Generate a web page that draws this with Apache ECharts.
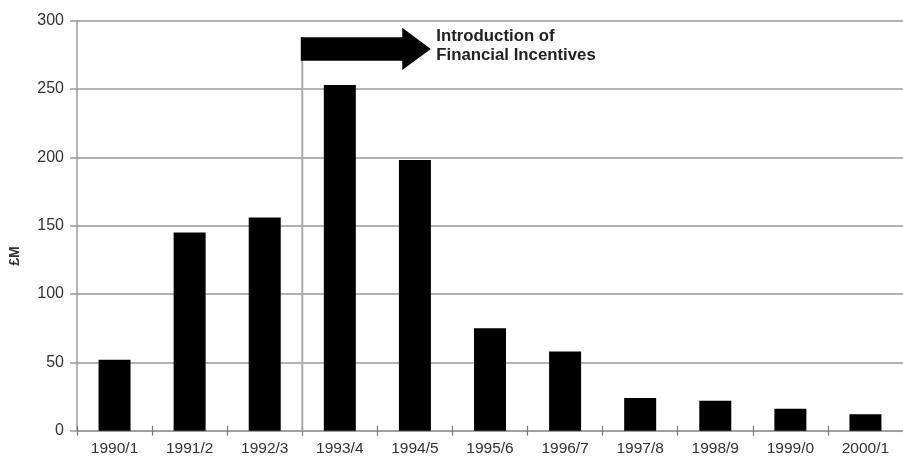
<!DOCTYPE html>
<html>
<head>
<meta charset="utf-8">
<script src="https://cdn.jsdelivr.net/npm/echarts@6/dist/echarts.min.js"></script>
<style>
html,body{margin:0;padding:0;background:#fff;}
#c{width:903px;height:459px;}
</style>
</head>
<body>
<div id="c"></div>
<script>
const categories = ['1990/1','1991/2','1992/3','1993/4','1994/5','1995/6','1996/7','1997/8','1998/9','1999/0','2000/1'];
const values = [52, 145, 156, 253, 198, 75, 58, 24, 22, 16, 12];
const yTicks = [0, 50, 100, 150, 200, 250, 300];
const yAxisName = '£M';
const annotationLines = ['Introduction of', 'Financial Incentives'];
const incentiveStartIndex = 3;

const FONT = '"Liberation Sans", Arial, Helvetica, sans-serif';
const chart = echarts.init(document.getElementById('c'), null, {renderer: 'canvas'});

chart.setOption({
  backgroundColor: '#ffffff',
  animation: false,
  grid: {left: 77, top: 20.7, width: 838, height: 410},
  xAxis: [{
    type: 'category',
    data: categories,
    axisLine: {lineStyle: {color: '#999', width: 1.5}},
    axisTick: {show: true, length: 5, lineStyle: {color: '#777', width: 1.2}},
    axisLabel: {color: '#333', fontFamily: FONT, fontSize: 15.5, margin: 10}
  }, {
    type: 'category',
    data: categories,
    position: 'bottom',
    axisLine: {show: false},
    axisTick: {show: true, inside: true, length: 5, lineStyle: {color: '#777', width: 1.2}},
    axisLabel: {show: false},
    splitLine: {show: false}
  }],
  yAxis: {
    type: 'value',
    min: yTicks[0],
    max: yTicks[yTicks.length - 1],
    interval: yTicks[1] - yTicks[0],
    axisLine: {show: true, lineStyle: {color: '#999', width: 1.5}},
    axisTick: {show: true, length: 7, lineStyle: {color: '#999', width: 1.5}},
    axisLabel: {color: '#333', fontFamily: FONT, fontSize: 16, margin: 13},
    splitLine: {show: true, lineStyle: {color: '#999', width: 1.5}}
  },
  series: [{
    type: 'bar',
    xAxisIndex: 0,
    data: values,
    barWidth: 32,
    itemStyle: {color: '#000'}
  }]
});

function drawAnnotations() {
  const xa = chart.convertToPixel({xAxisIndex: 0}, categories[incentiveStartIndex - 1]);
  const xb = chart.convertToPixel({xAxisIndex: 0}, categories[incentiveStartIndex]);
  const x0 = (xa + xb) / 2;
  const yT = chart.convertToPixel({yAxisIndex: 0}, yTicks[yTicks.length - 1]);
  const yB = chart.convertToPixel({yAxisIndex: 0}, yTicks[0]);
  chart.setOption({
    graphic: [
      {type: 'line', shape: {x1: x0, y1: yT + 16, x2: x0, y2: yB}, style: {stroke: '#aaa', lineWidth: 2}, z: 5},
      {type: 'polygon', shape: {points: [
        [x0 - 1.5, yT + 16.6], [x0 + 100, yT + 16.6], [x0 + 100, yT + 7],
        [x0 + 128.5, yT + 28.2], [x0 + 100, yT + 49.3], [x0 + 100, yT + 40], [x0 - 1.5, yT + 40]
      ]}, style: {fill: '#000'}, z: 6},
      {type: 'text', x: x0 + 134, y: yT + 15.5, style: {text: annotationLines[0], font: 'bold 16.8px ' + FONT, fill: '#222', textAlign: 'left', textVerticalAlign: 'middle'}, z: 6},
      {type: 'text', x: x0 + 134, y: yT + 34.5, style: {text: annotationLines[1], font: 'bold 16.8px ' + FONT, fill: '#222', textAlign: 'left', textVerticalAlign: 'middle'}, z: 6},
      {type: 'text', x: 15, y: 256, rotation: Math.PI / 2, style: {text: yAxisName, font: 'bold 14px ' + FONT, fill: '#333', textAlign: 'center', textVerticalAlign: 'middle'}, z: 6}
    ]
  });
}
drawAnnotations();
</script>
</body>
</html>
